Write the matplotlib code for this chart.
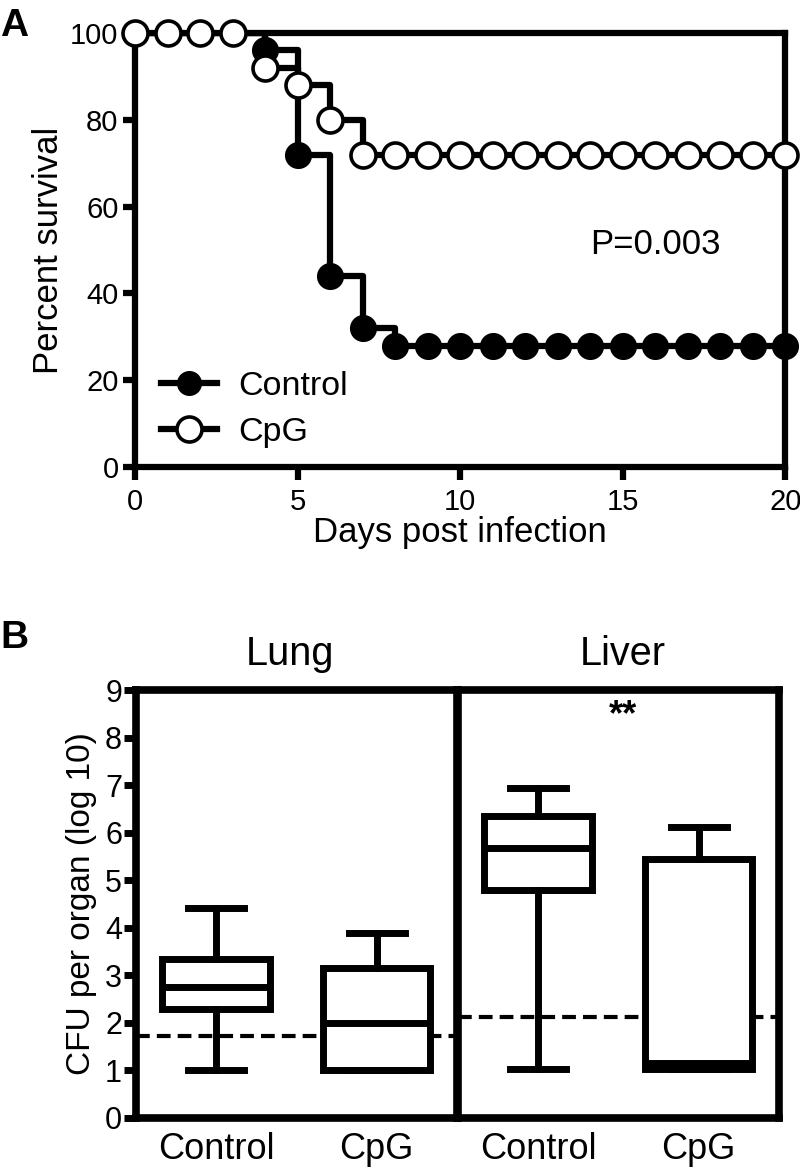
import matplotlib.pyplot as plt

plt.rcParams['font.family'] = ['Liberation Sans', 'DejaVu Sans']

# panel A: survival (percent) per day
days = list(range(0, 21))
control_surv = [100, 100, 100, 100, 96, 72, 44, 32, 28, 28, 28, 28, 28, 28, 28, 28, 28, 28, 28, 28, 28]
cpg_surv = [100, 100, 100, 100, 92, 88, 80, 72, 72, 72, 72, 72, 72, 72, 72, 72, 72, 72, 72, 72, 72]

# panel B: box stats (whislo, q1, med, q3, whishi), log10 CFU
groups = ['Control', 'CpG']
lung_stats = [[1.0, 2.3, 2.75, 3.35, 4.42], [1.0, 1.0, 2.0, 3.15, 3.9]]
liver_stats = [[1.02, 4.8, 5.67, 6.35, 6.93], [1.04, 1.04, 1.15, 5.45, 6.12]]
lung_limit = 1.72
liver_limit = 2.12

fig = plt.figure(figsize=(8, 11.67), dpi=100)

lw = 4.5
# ---------- A ----------
ax = fig.add_axes([0.169, 0.5998, 0.8125, 0.3719])
ax.plot(days, control_surv, drawstyle='steps-post', color='black', lw=lw, zorder=2)
ax.plot(days, control_surv, 'o', color='black', ms=17, mec='black', mew=2.5, zorder=3, clip_on=False)
ax.plot(days, cpg_surv, drawstyle='steps-post', color='black', lw=lw, zorder=4)
ax.plot(days, cpg_surv, 'o', color='black', mfc='white', ms=18, mec='black', mew=2.6, zorder=5, clip_on=False)
# legend handles
h1, = ax.plot([], [], '-o', color='black', lw=lw, ms=17, label='Control')
h2, = ax.plot([], [], '-o', color='black', mfc='white', lw=lw, ms=18, mew=2.6, label='CpG')
ax.legend([h1, h2], ['Control', 'CpG'], loc='lower left', bbox_to_anchor=(0.04, 0.044),
          frameon=False, fontsize=24.5, handlelength=1.65, labelspacing=0.45,
          handletextpad=0.6, borderpad=0, borderaxespad=0)
ax.set_xlim(0, 20)
ax.set_ylim(0, 100)
ax.set_xticks([0, 5, 10, 15, 20])
ax.set_yticks([0, 20, 40, 60, 80, 100])
for s in ax.spines.values():
    s.set_linewidth(lw)
ax.tick_params(width=lw, length=9, labelsize=21, pad=3)
ax.tick_params(axis='x', pad=6)
ax.set_xlabel('Days post infection', fontsize=25, labelpad=0)
ax.set_ylabel('Percent survival', fontsize=25, labelpad=4)
ax.text(14.0, 49, 'P=0.003', fontsize=25)
fig.text(0.0, 0.993, 'A', fontsize=28, fontweight='bold', va='top')

# ---------- B ----------
blw = 5.0


def box_panel(ax, stats, limit):
    bx = []
    for g, st in zip(groups, stats):
        bx.append(dict(label=g, whislo=st[0], q1=st[1], med=st[2], q3=st[3], whishi=st[4]))
    props = dict(color='black', linewidth=blw)
    ax.bxp(bx, positions=[1, 2], widths=0.67, showfliers=False,
           boxprops=props, whiskerprops=props, capprops=props,
           medianprops=dict(color='black', linewidth=blw), capwidths=0.35,
           patch_artist=True, zorder=3)
    for p in ax.patches:
        p.set_facecolor('white')
    ax.axhline(limit, color='black', lw=3, ls=(0, (3.3, 1.7)), zorder=2)
    ax.set_xlim(0.5, 2.5)
    ax.set_ylim(0, 9)
    for s in ax.spines.values():
        s.set_linewidth(5.5)
    ax.tick_params(axis='x', length=0, labelsize=26, pad=10)


ax_lung = fig.add_axes([0.170, 0.042, 0.401, 0.3667])
box_panel(ax_lung, lung_stats, lung_limit)
ax_lung.set_yticks(range(10))
ax_lung.tick_params(axis='y', width=5, length=9, labelsize=22, pad=1)
ax_lung.set_ylabel('CFU per organ (log 10)', fontsize=24, labelpad=6)

ax_liver = fig.add_axes([0.5725, 0.042, 0.401, 0.3667])
box_panel(ax_liver, liver_stats, liver_limit)
ax_liver.set_yticks([])
ax_liver.text(1.53, 8.47, '**', fontsize=26, fontweight='bold', ha='center', va='center')

fig.text(0.362, 0.4302, 'Lung', fontsize=28.5, ha='center', va='baseline')
fig.text(0.779, 0.4302, 'Liver', fontsize=28.5, ha='center', va='baseline')
fig.text(0.0, 0.469, 'B', fontsize=28, fontweight='bold', va='top')

fig.savefig('out.png', dpi=100)
